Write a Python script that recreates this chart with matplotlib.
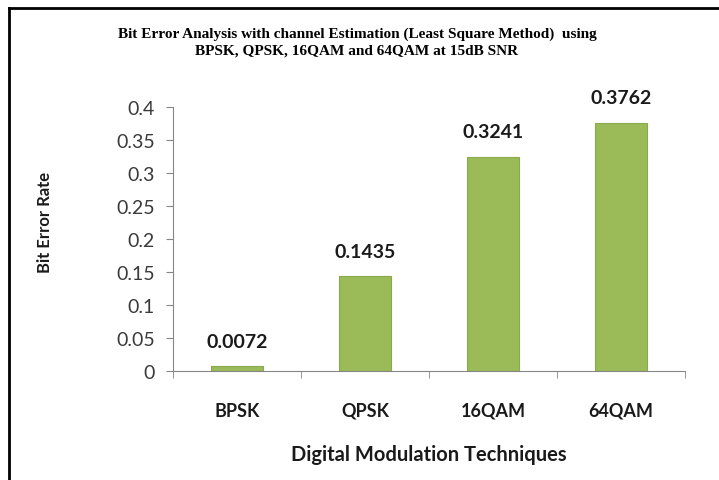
import matplotlib
matplotlib.use('Agg')
import matplotlib.pyplot as plt
import numpy as np

categories = ['BPSK', 'QPSK', '16QAM', '64QAM']
ber = [0.0072, 0.1435, 0.3241, 0.3762]
ber_labels = ['0.0072', '0.1435', '0.3241', '0.3762']
yticks = [0, 0.05, 0.1, 0.15, 0.2, 0.25, 0.3, 0.35, 0.4]
ytick_labels = ['0', '0.05', '0.1', '0.15', '0.2', '0.25', '0.3', '0.35', '0.4']

graphtitle = 'Bit Error Analysis with channel Estimation (Least Square Method)  using\nBPSK, QPSK, 16QAM and 64QAM at 15dB SNR'
graphylabel = 'Bit Error Rate'
graphxlabel = 'Digital Modulation Techniques'

sans = ['Lato', 'DejaVu Sans']
axis_grey = '#868686'

fig = plt.figure(figsize=(7.19, 4.81), dpi=100)
ax = fig.add_axes([173/719, 1-372/481, 512/719, 264/481])

x = np.arange(len(categories))
ax.bar(x, ber, width=0.4, color='#9bbb59', edgecolor='#8aa84c', linewidth=0.8)
for xi, v, txt in zip(x, ber, ber_labels):
    ax.annotate(txt, (xi, v), xytext=(0, 12), textcoords='offset points',
                ha='center', va='bottom', fontsize=14, fontweight='bold',
                family=sans, color='#1a1a1a')

ax.set_xlim(-0.5, len(categories) - 0.5)
ax.set_ylim(0, 0.4)
ax.set_yticks(yticks)
ax.set_yticklabels(ytick_labels, family=sans, fontsize=14, color='#3a3a3a')
ax.set_xticks(x)
ax.set_xticklabels(categories, family=sans, fontsize=13, fontweight='bold', color='#1a1a1a')
ax.tick_params(axis='x', length=0, pad=22)
ax.tick_params(axis='y', direction='out', length=5, color=axis_grey, pad=8)
# category separator ticks on the x axis
ax.set_xticks(np.arange(-0.5, len(categories)), minor=True)
ax.tick_params(axis='x', which='minor', direction='out', length=5, color=axis_grey)

ax.spines['right'].set_color('none')
ax.spines['top'].set_color('none')
ax.spines['left'].set_color(axis_grey)
ax.spines['bottom'].set_color(axis_grey)

fig.text(357/719, 1-43/481, graphtitle, ha='center', va='center', family=['Liberation Serif'],
         fontsize=11, fontweight='bold', linespacing=1.35)
fig.text(45/719, 1-222/481, graphylabel, rotation=90, ha='center', va='center',
         family=sans, fontsize=12, fontweight='bold', color='#1a1a1a')
fig.text(429/719, 1-455/481, graphxlabel, ha='center', va='center',
         family=sans, fontsize=14.5, fontweight='bold', color='#1a1a1a')

# outer frame (top and left edges of the cropped box)
fig.add_artist(plt.Line2D([9/719, 1], [1-9/481, 1-9/481], color='black', linewidth=2, transform=fig.transFigure))
fig.add_artist(plt.Line2D([9/719, 9/719], [0, 1-9/481], color='black', linewidth=2, transform=fig.transFigure))

plt.savefig('out.png', dpi=100)
